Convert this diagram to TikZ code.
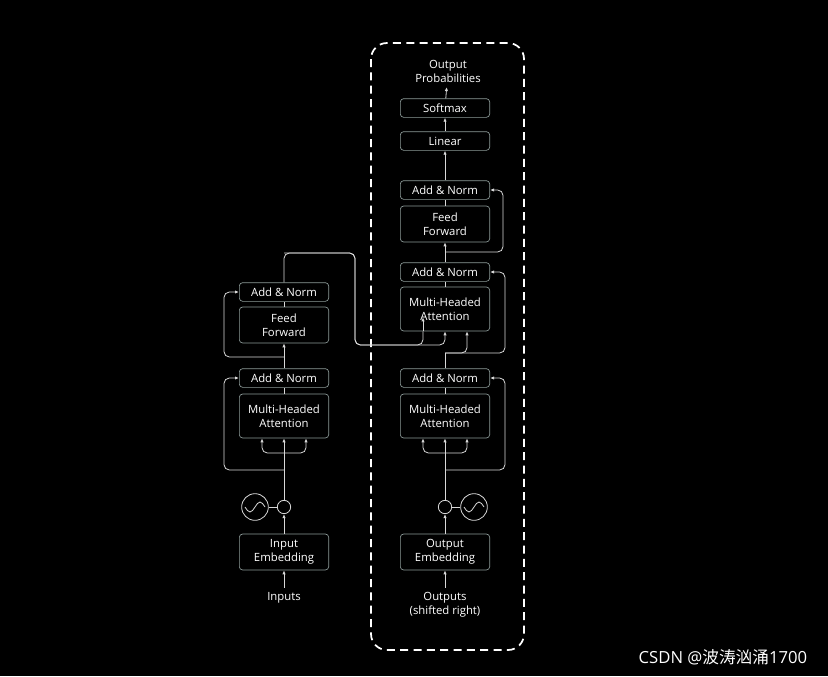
\documentclass[tikz,border=0pt]{standalone}
\usepackage{fontspec}
\setmainfont{Open Sans}
\newfontfamily\cjk{Noto Sans CJK SC}
\usetikzlibrary{arrows.meta,calc}
\definecolor{boxline}{HTML}{8C9A98}
\definecolor{wire}{HTML}{D8D8D8}
\tikzset{
  box/.style={draw=boxline, line width=0.5pt, rounded corners=2.5pt, fill=black, text=white,
    minimum width=67pt, minimum height=14pt, inner sep=1pt, align=center,
    font=\fontsize{8.5}{10.5}\selectfont},
  tallbox/.style={box, minimum height=33pt},
  ffbox/.style={box, minimum height=27pt},
  lbl/.style={text=white, align=center, font=\fontsize{8.5}{10.5}\selectfont},
  wave/.style={circle, draw=wire, line width=0.6pt, minimum size=20pt, inner sep=0pt},
  dot/.style={circle, draw=wire, line width=0.6pt, minimum size=10pt, inner sep=0pt},
  arr/.style={-{Latex[length=3pt,width=2.5pt]}},
  rc/.style={rounded corners=4pt},
}
\begin{document}
\begin{tikzpicture}[x=0.75pt,y=-0.75pt, wire, line width=0.6pt]
	%background
	\fill[black] (0,0) rectangle (828,676);
	\useasboundingbox (0,0) rectangle (828,676);
	%decoder frame
	\draw[white, line width=1.3pt, dash pattern=on 6pt off 4pt, rounded corners=12pt] (371,43) rectangle (524,650);
	%encoder
	\node[box] (lan2) at (284,292) {Add \& Norm};
	\node[ffbox] (lff) at (284,325) {Feed\\Forward};
	\node[box] (lan1) at (284,378) {Add \& Norm};
	\node[tallbox] (lmha) at (284,416) {Multi-Headed\\Attention};
	\node[wave] (lpe) at (255,507) {};
	\node[dot] (ladd) at (284,507) {};
	\node[ffbox] (lemb) at (284,552) {Input\\Embedding};
	\node[lbl] (lin) at (284,598) {Inputs};
	%decoder
	\node[lbl] (prob) at (448,71) {Output\\Probabilities};
	\node[box] (soft) at (445,108) {Softmax};
	\node[box] (lin2) at (445,141) {Linear};
	\node[box] (ran3) at (445,190) {Add \& Norm};
	\node[ffbox] (rff) at (445,224) {Feed\\Forward};
	\node[box] (ran2) at (445,272) {Add \& Norm};
	\node[tallbox] (rmha2) at (445,309) {Multi-Headed\\Attention};
	\node[box] (ran1) at (445,378) {Add \& Norm};
	\node[tallbox] (rmha1) at (445,416) {Multi-Headed\\Attention};
	\node[dot] (radd) at (445,507) {};
	\node[wave] (rpe) at (474,507) {};
	\node[ffbox] (remb) at (445,552) {Output\\Embedding};
	\node[lbl] (rout) at (445,605) {Outputs\\(shifted right)};
	%sine waves
	\foreach \c in {lpe,rpe}
	\draw ($(\c)+(-10,0)$) sin ++(5,5) cos ++(5,-5) sin ++(5,-5) cos ++(5,5);
	%encoder wires
	\coordinate (lfork) at (284,453);
	\coordinate (lres1) at (284,470);
	\coordinate (lres2) at (284,357);
	\coordinate (lout) at (284,253);
	\draw[arr] (lin) -- (lemb);
	\draw[arr] (lemb) -- (ladd);
	\draw (lpe) -- (ladd);
	\draw[arr] (ladd) -- (lmha);
	\draw[arr,rc] (lfork) -| ($(lmha.south)+(-22,0)$);
	\draw[arr,rc] (lfork) -| ($(lmha.south)+(22,0)$);
	\draw[arr,rc] (lres1) -| (224,378) -- (lan1.west);
	\draw (lmha) -- (lan1);
	\draw[arr] (lan1) -- (lff);
	\draw[arr,rc] (lres2) -| (224,292) -- (lan2.west);
	\draw (lff) -- (lan2);
	\draw[rc] (lan2) -- (lout) -- (355,253) -- (355,345) -| ($(rmha2.south)+(-22,0)$) coordinate (rk);
	\draw[arr] (rk) -- ++(0,-14);
	\draw[arr,rc] (lout) -- (355,253) -- (355,345) -| (rmha2.south);
	%decoder wires
	\coordinate (rfork) at (445,453);
	\coordinate (rres1) at (445,470);
	\coordinate (rres2) at (445,353);
	\coordinate (rres3) at (445,252);
	\draw[arr] (rout) -- (remb);
	\draw[arr] (remb) -- (radd);
	\draw (rpe) -- (radd);
	\draw[arr] (radd) -- (rmha1);
	\draw[arr,rc] (rfork) -| ($(rmha1.south)+(-22,0)$);
	\draw[arr,rc] (rfork) -| ($(rmha1.south)+(22,0)$);
	\draw[arr,rc] (rres1) -| (505,378) -- (ran1.east);
	\draw (rmha1) -- (ran1);
	\draw (ran1) -- (rres2);
	\draw[arr,rc] (rres2) -| ($(rmha2.south)+(22,0)$);
	\draw[arr,rc] (rres2) -| (505,272) -- (ran2.east);
	\draw (rmha2) -- (ran2);
	\draw[arr] (ran2) -- (rff);
	\draw[arr,rc] (rres3) -| (503,190) -- (ran3.east);
	\draw (rff) -- (ran3);
	\draw[arr] (ran3) -- (lin2);
	\draw[arr] (lin2) -- (soft);
	\draw[arr] (soft) -- (prob);
	%watermark
	\node[text=white, font=\fontsize{12.5}{14}\selectfont, anchor=east] (mark) at (812,657) {CSDN @{\cjk 波涛汹涌}1700};
\end{tikzpicture}
\end{document}
